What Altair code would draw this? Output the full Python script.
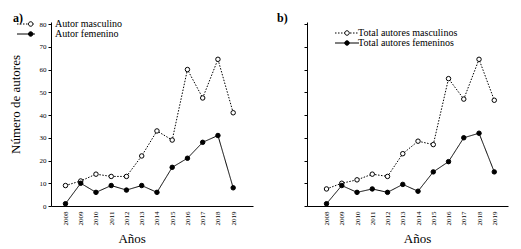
import altair as alt
import pandas as pd

years = list(range(2008, 2020))
masc_a = [9, 11, 14, 13, 13, 22, 33, 29, 60, 47.5, 64.5, 41]
fem_a = [1, 10, 6, 9, 7, 9, 6, 17, 21, 28, 31, 8]
masc_b = [7.5, 10, 11.5, 14, 13, 23, 28.5, 27, 56, 47, 64.5, 46.5]
fem_b = [1, 9, 6, 7.5, 6, 9.5, 6.5, 15, 19.5, 30, 32, 15]

labels_a = ["Autor masculino", "Autor femenino"]
labels_b = ["Total autores masculinos", "Total autores femeninos"]
codes = ["M", "F"]
y_ticks = [0, 10, 20, 30, 40, 50, 60, 70, 80]

FONT = "Liberation Serif"
CIRCLE_PATH = "M-0.75,0A0.75,0.75 0 1,0 0.75,0A0.75,0.75 0 1,0 -0.75,0Z"


def make_df(masc, fem, labels):
    rows = []
    for yr, v in zip(years, masc):
        rows.append({"year": yr, "value": v, "serie": labels[0], "code": codes[0]})
    for yr, v in zip(years, fem):
        rows.append({"year": yr, "value": v, "serie": labels[1], "code": codes[1]})
    return pd.DataFrame(rows)


def panel(df, labels, xdomain, left, title, title_dx, title_dy, leg_x, leg_y,
          line_path, lab_off, xtitle_x, row_pad):
    yaxis = alt.Axis(
        values=y_ticks, grid=False, domainColor="black", tickColor="black",
        tickSize=3, labelPadding=2, labelFont=FONT, labelFontSize=7,
        labelColor="black", labels=left,
        title="Número de autores" if left else None,
        titleFont=FONT, titleFontSize=13, titleFontWeight="normal",
        titleColor="black", titleX=-36, titleY=82, titleAlign="center",
        titleBaseline="middle", titleAngle=270,
    )
    xaxis = alt.Axis(
        values=years, format="d", grid=False, ticks=False, domainColor="black",
        labelAngle=270, labelFont=FONT, labelFontSize=7, labelColor="black",
        labelPadding=5, labelAlign="right", labelBaseline="middle",
        title="Años", titleFont=FONT, titleFontSize=13, titleFontWeight="normal",
        titleColor="black", titleX=xtitle_x, titleY=32, titleAlign="center",
        titleBaseline="middle",
    )
    base = alt.Chart(df).encode(
        x=alt.X("year:Q", scale=alt.Scale(domain=xdomain, nice=False, zero=False), axis=xaxis),
        y=alt.Y("value:Q", scale=alt.Scale(domain=[0, 80.9], nice=False, zero=True), axis=yaxis),
    )
    line = base.mark_line(color="black", strokeWidth=1).encode(
        strokeDash=alt.StrokeDash(
            "serie:N",
            scale=alt.Scale(domain=labels, range=[[1.5, 1.5], [1, 0]]),
            legend=alt.Legend(
                orient="none", legendX=leg_x, legendY=leg_y, title=None,
                symbolType=line_path, symbolSize=36, symbolStrokeWidth=1,
                symbolStrokeColor="black", labelFont=FONT, labelFontSize=10,
                labelColor="black", labelOffset=lab_off, rowPadding=row_pad,
                padding=0, zindex=1,
            ),
        )
    )
    pts = base.mark_point(filled=True, stroke="black", strokeWidth=1, size=20,
                          opacity=1, shape="circle").encode(
        fill=alt.Fill(
            "code:N",
            scale=alt.Scale(domain=codes, range=["white", "black"]),
            legend=alt.Legend(
                orient="none", legendX=leg_x, legendY=leg_y, title=None,
                symbolType=CIRCLE_PATH, symbolSize=36, symbolStrokeWidth=1,
                symbolStrokeColor="black", labelOpacity=0, labelFontSize=10,
                labelExpr="''", labelFont=FONT, labelOffset=lab_off,
                rowPadding=row_pad, padding=0, zindex=3,
            ),
        )
    )
    return alt.layer(line, pts).properties(
        width=202 if left else 201, height=184,
        title=alt.TitleParams(title, anchor="start", frame="group", dx=title_dx,
                              dy=title_dy, offset=3, font=FONT, fontSize=12,
                              fontWeight="bold", color="black"),
    )


left = panel(make_df(masc_a, fem_a, labels_a), labels_a, [2007.05, 2020.3], True,
             "a)", -38, 8.5, -25.3, -3, "M-4.57,0H1.43", 19.3, 80.7, 0)
right = panel(make_df(masc_b, fem_b, labels_b), labels_b, [2006.72, 2019.9], False,
              "b)", -30, 6, 35, 6, "M-4,0H4", 6, 110, 0)

chart = alt.hconcat(left, right, spacing=54, bounds="flush").resolve_scale(
    x="independent", y="independent", strokeDash="independent", fill="independent"
).resolve_legend(strokeDash="independent", fill="independent").properties(
    padding={"left": 9, "top": 11, "right": 13, "bottom": 3},
    background="white",
).configure_view(stroke=None)

chart.save("out.html", embed_options={"renderer": "svg", "actions": False})
